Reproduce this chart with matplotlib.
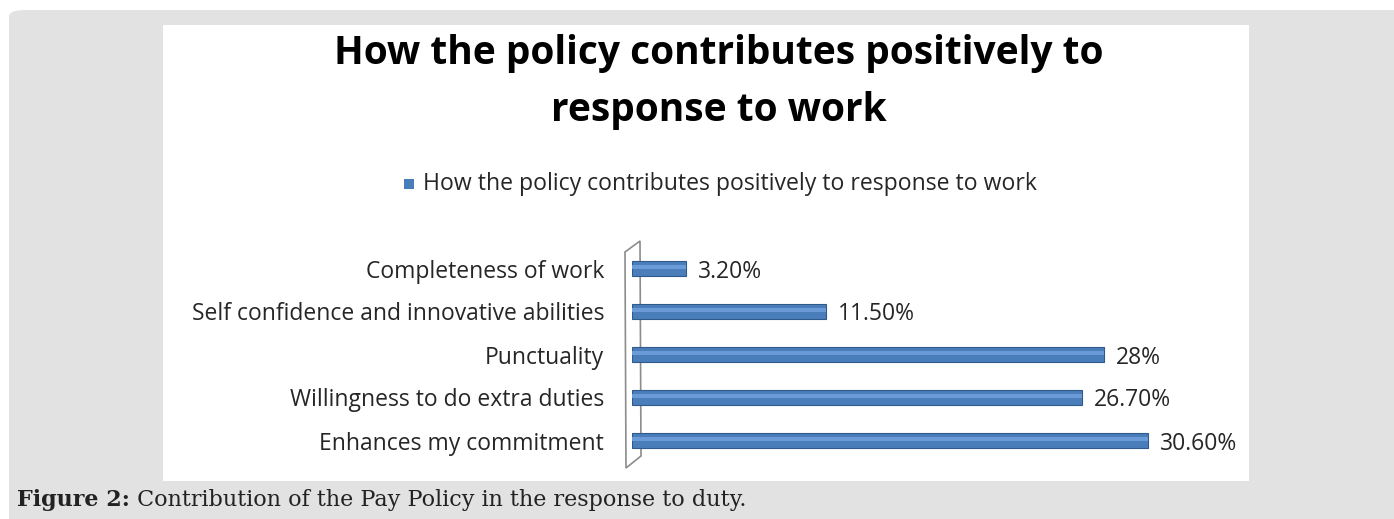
import matplotlib
matplotlib.use("Agg")
import matplotlib.pyplot as plt
from matplotlib.patches import FancyBboxPatch, Rectangle, Polygon

# data
categories = ["Enhances my commitment", "Willingness to do extra duties", "Punctuality",
              "Self confidence and innovative abilities", "Completeness of work"]
values = [30.6, 26.7, 28.0, 11.5, 3.2]
value_labels = ["30.60%", "26.70%", "28%", "11.50%", "3.20%"]

title = "How the policy contributes positively to\nresponse to work"
legend_label = "How the policy contributes positively to response to work"
caption_bold = "Figure 2:"
caption_rest = " Contribution of the Pay Policy in the response to duty."

W, H = 1394, 519
BAR_COLOR = "#4a7ebb"
FONT = "Open Sans"


def fx(px):
    return px / W


def fy(py):
    return 1 - py / H


fig = plt.figure(figsize=(W / 100, H / 100), dpi=100)
fig.patch.set_facecolor("white")

# gray rounded panel and white chart area
panel = FancyBboxPatch((fx(9), fy(540)), fx(1420), fy(10) - fy(540),
                       boxstyle="round,pad=0,rounding_size=0.012",
                       transform=fig.transFigure, facecolor="#e2e2e2",
                       edgecolor="none", zorder=0)
fig.patches.append(panel)
fig.patches.append(Rectangle((fx(163), fy(481)), fx(1249) - fx(163), fy(25) - fy(481),
                             transform=fig.transFigure, facecolor="white",
                             edgecolor="none", zorder=1))

# 3D-ish wall on the left of the bars
wall = Polygon([(fx(625), fy(252)), (fx(640), fy(241)), (fx(641), fy(456)), (fx(626), fy(468))],
               closed=True, transform=fig.transFigure, facecolor="white",
               edgecolor="#8c8c8c", linewidth=1.2, zorder=2)
fig.patches.append(wall)

ax = fig.add_axes([fx(632), fy(462), fx(1239) - fx(632), fy(247) - fy(462)])
ax.set_facecolor("none")
ax.set_zorder(3)

y = range(len(categories))
ax.barh(y, values, height=0.33, color=BAR_COLOR, edgecolor="#2f5a8a", linewidth=0.8)
# light strip to fake the cylinder shading
ax.barh([i + 0.04 for i in y], values, height=0.1, color="#6b9bd6", linewidth=0)

for i, (v, lab) in enumerate(zip(values, value_labels)):
    ax.text(v + 0.7, i, lab, va="center_baseline", ha="left", fontsize=16.5,
            family=FONT, color="#262626")

ax.set_xlim(0, 36)
ax.set_ylim(-0.5, len(categories) - 0.5)
ax.set_yticks(list(y))
ax.set_yticklabels(categories, fontsize=16.5, family=FONT, color="#262626",
                   va="center_baseline")
ax.tick_params(axis="y", length=0, pad=20)
ax.set_xticks([])
for s in ax.spines.values():
    s.set_visible(False)

# title and legend
fig.text(fx(719), fy(82), title, ha="center", va="center", fontsize=28,
         fontweight="bold", family=FONT, color="black", linespacing=1.6, zorder=4)
fig.patches.append(Rectangle((fx(404), fy(189)), fx(10), fy(179) - fy(189),
                             transform=fig.transFigure, facecolor=BAR_COLOR,
                             edgecolor="none", zorder=4))
fig.text(fx(423), fy(184), legend_label, ha="left", va="center", fontsize=16.6,
         family=FONT, color="#262626", zorder=4)

# caption
t1 = fig.text(fx(17), fy(500), caption_bold, ha="left", va="center", fontsize=16,
              fontweight="bold", family="DejaVu Serif", color="#222222", zorder=4)
fig.canvas.draw()
bb = t1.get_window_extent()
fig.text(bb.x1 / W, fy(500), caption_rest, ha="left", va="center", fontsize=16,
         family="DejaVu Serif", color="#222222", zorder=4)

fig.savefig("out.png", dpi=100, facecolor=fig.get_facecolor())
